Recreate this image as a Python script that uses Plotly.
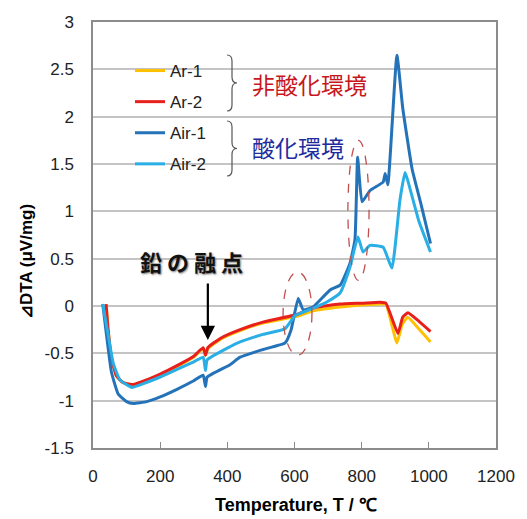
import plotly.graph_objects as go

# ---------------- data ----------------
ar1_T = [39, 45, 55, 70, 90, 120, 160, 200, 250, 300, 328, 335, 342, 380, 438, 506, 607, 655, 736, 800, 855, 872, 905, 920, 937, 970, 1005]
ar1_y = [0.02, -0.25, -0.55, -0.74, -0.81, -0.83, -0.79, -0.73, -0.64, -0.54, -0.45, -0.52, -0.45, -0.35, -0.26, -0.18, -0.11, -0.05, -0.01, 0.01, 0.02, 0.02, -0.39, -0.20, -0.12, -0.24, -0.38]

ar2_T = [39, 45, 55, 70, 90, 120, 160, 200, 250, 300, 328, 335, 342, 380, 438, 506, 607, 655, 736, 800, 855, 872, 908, 922, 938, 970, 1005]
ar2_y = [0.02, -0.25, -0.55, -0.74, -0.81, -0.83, -0.78, -0.72, -0.63, -0.53, -0.44, -0.52, -0.44, -0.34, -0.25, -0.17, -0.09, -0.02, 0.02, 0.03, 0.04, 0.03, -0.29, -0.12, -0.07, -0.16, -0.27]

air1_T = [29, 40, 55, 75, 100, 120, 160, 200, 250, 300, 328, 335, 340, 408, 438, 506, 572, 590, 611, 626, 655, 706, 736, 765, 780, 788, 801, 825, 864, 870, 878, 905, 922, 950, 975, 1005]
air1_y = [0.02, -0.30, -0.70, -0.93, -1.01, -1.03, -1.01, -0.96, -0.88, -0.79, -0.73, -0.85, -0.75, -0.62, -0.54, -0.46, -0.39, -0.25, 0.08, -0.04, -0.01, 0.17, 0.22, 0.45, 0.70, 1.57, 1.10, 1.22, 1.31, 1.40, 1.28, 2.65, 2.10, 1.45, 1.10, 0.66]

air2_T = [29, 45, 60, 80, 115, 150, 200, 250, 300, 328, 335, 340, 408, 438, 506, 572, 602, 652, 700, 736, 765, 789, 804, 825, 864, 890, 914, 929, 937, 970, 1005]
air2_y = [0.02, -0.30, -0.60, -0.78, -0.86, -0.82, -0.75, -0.67, -0.59, -0.54, -0.68, -0.57, -0.43, -0.38, -0.30, -0.24, -0.10, -0.03, 0.05, 0.14, 0.41, 0.73, 0.57, 0.64, 0.62, 0.40, 1.12, 1.41, 1.33, 0.90, 0.57]

series_names = ["Ar-1", "Ar-2", "Air-1", "Air-2"]
series_colors = ["#FFC000", "#E8201C", "#2472B8", "#2AAEE6"]

x_ticks = [0, 200, 400, 600, 800, 1000, 1200]
y_ticks = [-1.5, -1, -0.5, 0, 0.5, 1, 1.5, 2, 2.5, 3]
y_tick_text = ["-1.5", "-1", "-0.5", "0", "0.5", "1", "1.5", "2", "2.5", "3"]

# ---------------- figure ----------------
W, H = 527, 519
L, R, T, B = 93, 31, 22, 71
PW, PH = W - L - R, H - T - B


def px(x):
    return (x - L) / PW


def py(y):
    return 1 - (y - T) / PH


fig = go.Figure()
all_T = [ar1_T, ar2_T, air1_T, air2_T]
all_y = [ar1_y, ar2_y, air1_y, air2_y]
for i, (name, col) in enumerate(zip(series_names, series_colors)):
    fig.add_trace(go.Scatter(
        x=all_T[i], y=all_y[i], name=name, mode="lines",
        line=dict(color=col, width=3, shape="spline", smoothing=0.4),
        legendgroup=name,
    ))

base_font = "Liberation Sans, Arial, sans-serif"
cjk_font = "Noto Sans CJK JP, sans-serif"

shapes = []
# white block behind legend + braces
shapes.append(dict(type="rect", xref="paper", yref="paper", layer="between",
                   x0=px(125), x1=px(234), y0=py(182), y1=py(50),
                   fillcolor="white", line=dict(width=0)))


def brace(x0, ytop, ybot, w=5, r=6):
    ym = (ytop + ybot) / 2
    pts = [
        f"M{px(x0)},{py(ytop)}",
        f"Q{px(x0 + w)},{py(ytop)} {px(x0 + w)},{py(ytop + r)}",
        f"L{px(x0 + w)},{py(ym - r)}",
        f"Q{px(x0 + w)},{py(ym)} {px(x0 + 2 * w)},{py(ym)}",
        f"Q{px(x0 + w)},{py(ym)} {px(x0 + w)},{py(ym + r)}",
        f"L{px(x0 + w)},{py(ybot - r)}",
        f"Q{px(x0 + w)},{py(ybot)} {px(x0)},{py(ybot)}",
    ]
    return " ".join(pts)


for (yt, yb) in [(55, 111), (121, 176)]:
    shapes.append(dict(type="path", xref="paper", yref="paper", path=brace(227, yt, yb),
                       line=dict(color="#555555", width=1.2), layer="above"))

# dashed ellipses
shapes.append(dict(type="circle", xref="x", yref="y", x0=566, x1=652, y0=-0.52, y1=0.36,
                   line=dict(color="#C0504D", width=1.3, dash="dash")))
shapes.append(dict(type="circle", xref="x", yref="y", x0=759, x1=822, y0=0.27, y1=1.75,
                   line=dict(color="#C0504D", width=1.3, dash="dash")))

annotations = [
    dict(x=px(250), y=py(84), xref="paper", yref="paper", xanchor="left", yanchor="middle",
         text="非酸化環境", showarrow=False,
         font=dict(family=cjk_font, size=23, color="#C8161D")),
    dict(x=px(250), y=py(147), xref="paper", yref="paper", xanchor="left", yanchor="middle",
         text="酸化環境", showarrow=False,
         font=dict(family=cjk_font, size=23, color="#1F2C9E")),
    # arrow
    dict(x=342, y=-0.36, xref="x", yref="y", ax=0, ay=-58, text="", showarrow=True,
         arrowhead=2, arrowsize=1.3, arrowwidth=2.2, arrowcolor="black"),
    dict(x=px(191), y=py(261), xref="paper", yref="paper", xanchor="center", yanchor="middle",
         text="鉛 の 融 点", showarrow=False,
         font=dict(family=cjk_font, size=22, color="#111111", weight="bold",
                   shadow="1px 1px 2px #777777")),
    # y title
    dict(x=px(26), y=py(262), xref="paper", yref="paper", xanchor="center", yanchor="middle",
         text="⊿DTA (μV/mg)", textangle=-90, showarrow=False,
         font=dict(family=base_font, size=17, color="black", weight="bold")),
    # x title
    dict(x=px(296), y=py(505), xref="paper", yref="paper", xanchor="center", yanchor="middle",
         text="Temperature, T / ℃", showarrow=False,
         font=dict(family=base_font, size=18, color="black", weight="bold")),
]

fig.update_layout(
    width=W, height=H,
    margin=dict(l=L, r=R, t=T, b=B, pad=0),
    paper_bgcolor="white", plot_bgcolor="white",
    showlegend=True,
    legend=dict(x=px(130), y=py(53), xanchor="left", yanchor="top",
                bgcolor="rgba(0,0,0,0)", borderwidth=0,
                font=dict(family=base_font, size=17, color="#222222"),
                tracegroupgap=6, traceorder="grouped", itemwidth=30),
    shapes=shapes,
    annotations=annotations,
    xaxis=dict(range=[0, 1200], tickvals=x_ticks, ticktext=[str(v) for v in x_ticks],
               showgrid=False, zeroline=False,
               showline=True, linecolor="#8C8C8C", linewidth=1.5, mirror=True,
               ticks="inside", ticklen=6, tickcolor="#8C8C8C", tickwidth=1,
               tickfont=dict(family=base_font, size=17, color="#222222"),
               ticklabelstandoff=12),
    yaxis=dict(range=[-1.5, 3], tickvals=y_ticks, ticktext=y_tick_text,
               showgrid=True, gridcolor="#C4C4C4", gridwidth=1.5, zeroline=False,
               showline=True, linecolor="#8C8C8C", linewidth=1.5, mirror=True,
               ticks="", tickfont=dict(family=base_font, size=17, color="#222222"),
               ticklabelstandoff=14),
)

fig.write_html("out.html", config={"displayModeBar": False},
               post_script="document.body.style.margin='0';document.body.style.padding='0';")
